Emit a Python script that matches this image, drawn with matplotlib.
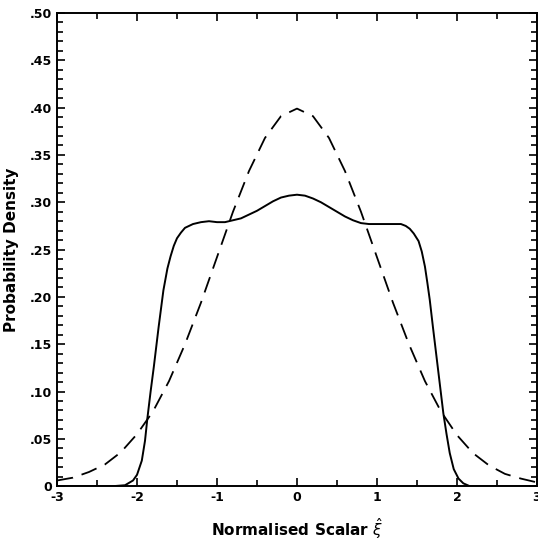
import matplotlib
matplotlib.use("Agg")
import matplotlib.pyplot as plt
from matplotlib.ticker import MultipleLocator, FixedLocator

scalar_x = [-3.0, -2.3, -2.15, -2.05, -2.0, -1.94, -1.9, -1.87, -1.83, -1.79,
            -1.73, -1.67, -1.62, -1.58, -1.54, -1.5, -1.45, -1.4, -1.3, -1.2,
            -1.1, -1.0, -0.9, -0.8, -0.7, -0.6, -0.5, -0.4, -0.3, -0.2,
            -0.1, 0.0, 0.1, 0.2, 0.3, 0.4, 0.5, 0.6, 0.7, 0.8,
            0.9, 1.0, 1.1, 1.2, 1.3, 1.36, 1.41, 1.46, 1.52, 1.56,
            1.6, 1.63, 1.66, 1.7, 1.75, 1.79, 1.83, 1.87, 1.91, 1.96,
            2.02, 2.08, 2.16, 3.0]
scalar_pdf = [0.0, 0.0, 0.001, 0.006, 0.012, 0.027, 0.048, 0.072, 0.100, 0.126,
              0.168, 0.207, 0.230, 0.243, 0.254, 0.262, 0.268, 0.273, 0.277, 0.279,
              0.280, 0.279, 0.279, 0.281, 0.283, 0.287, 0.291, 0.296, 0.301, 0.305,
              0.307, 0.308, 0.307, 0.304, 0.300, 0.295, 0.290, 0.285, 0.281, 0.278,
              0.277, 0.277, 0.277, 0.277, 0.277, 0.275, 0.272, 0.267, 0.259, 0.248,
              0.232, 0.215, 0.197, 0.168, 0.133, 0.105, 0.077, 0.055, 0.035, 0.018,
              0.008, 0.003, 0.0, 0.0]

# dashed curve: gaussian reference
gauss_x = [-3.0, -2.8, -2.6, -2.4, -2.2, -2.0, -1.8, -1.6, -1.4, -1.2, -1.0,
           -0.8, -0.6, -0.4, -0.2, 0.0, 0.2, 0.4, 0.6, 0.8, 1.0,
           1.2, 1.4, 1.6, 1.8, 2.0, 2.2, 2.4, 2.6, 2.8, 3.0]
gauss_pdf = [0.006, 0.009, 0.015, 0.023, 0.036, 0.055, 0.079, 0.111, 0.150, 0.194, 0.242,
             0.290, 0.333, 0.368, 0.391, 0.399, 0.391, 0.368, 0.333, 0.290, 0.242,
             0.194, 0.150, 0.111, 0.079, 0.054, 0.035, 0.022, 0.013, 0.008, 0.004]

y_ticks = [0, 0.05, 0.10, 0.15, 0.20, 0.25, 0.30, 0.35, 0.40, 0.45, 0.50]
y_labels = ["0", ".05", ".10", ".15", ".20", ".25", ".30", ".35", ".40", ".45", ".50"]
x_ticks = [-3, -2, -1, 0, 1, 2, 3]
x_labels = ["-3", "-2", "-1", "0", "1", "2", "3"]

fig = plt.figure(figsize=(5.38, 5.42), dpi=100)
ax = fig.add_axes([0.106, 0.103, 0.892, 0.873])

ax.plot(scalar_x, scalar_pdf, color="black", lw=1.4)
ax.plot(gauss_x, gauss_pdf, color="black", lw=1.3, dashes=(9, 5))

ax.set_xlim(-3, 3)
ax.set_ylim(0, 0.5)
ax.xaxis.set_major_locator(FixedLocator(x_ticks))
ax.set_xticklabels(x_labels)
ax.xaxis.set_minor_locator(MultipleLocator(0.5))
ax.yaxis.set_major_locator(FixedLocator(y_ticks))
ax.set_yticklabels(y_labels)
ax.yaxis.set_minor_locator(MultipleLocator(0.01))

ax.tick_params(which="both", direction="in", top=True, right=True, width=1.2)
ax.tick_params(which="major", length=6)
ax.tick_params(which="minor", length=4)
for lab in ax.get_xticklabels() + ax.get_yticklabels():
    lab.set_fontweight("bold")
    lab.set_fontsize(9)
for s in ax.spines.values():
    s.set_linewidth(1.4)

ax.set_xlabel(r"Normalised Scalar $\hat{\xi}$", fontsize=11, fontweight="bold", labelpad=9)
ax.set_ylabel("Probability Density", fontsize=11, fontweight="bold", labelpad=8)

fig.savefig("out.png", dpi=100)
